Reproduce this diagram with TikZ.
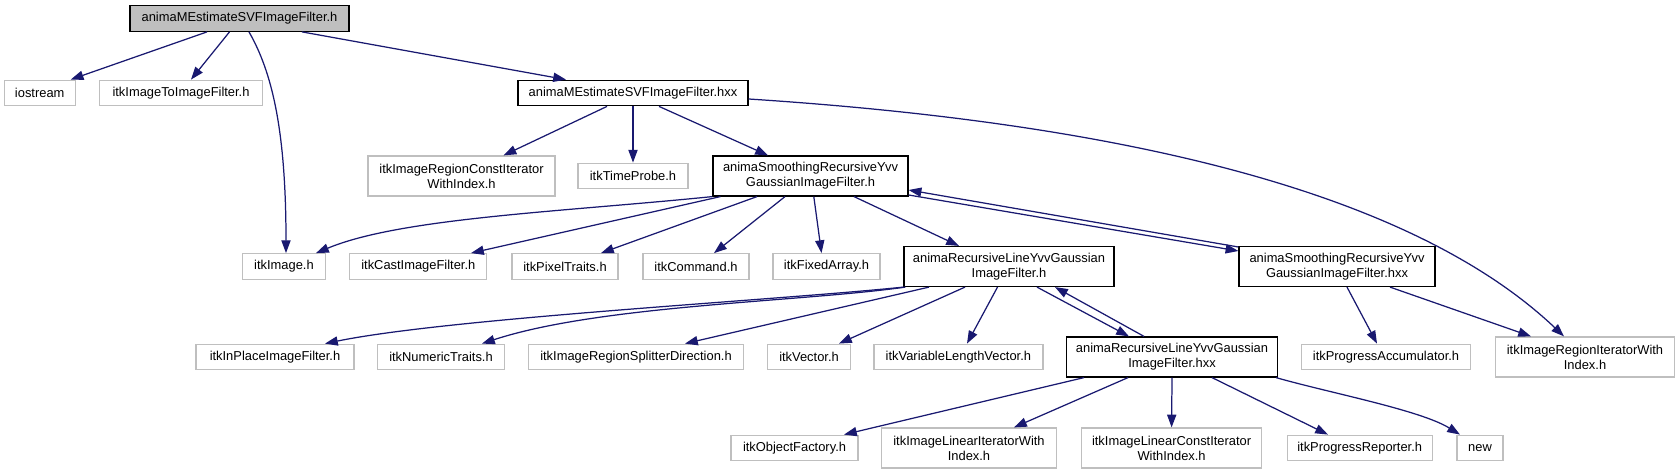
\documentclass[tikz,border=0pt]{standalone}
\usepackage{fontspec}
\setmainfont{Liberation Sans}
\usepackage{xcolor}
\usepackage{tikz}
\usetikzlibrary{arrows.meta,calc}
\definecolor{edgeblue}{HTML}{191970}
\definecolor{extgray}{HTML}{BFBFBF}
\definecolor{curgray}{HTML}{BFBFBF}
\newcommand{\gvfont}{\fontsize{6.45}{7.5}\selectfont}
\tikzset{
  hbox/.style  = {draw=black, line width=0.6pt, fill=white, align=center,
                  inner sep=0pt, font=\gvfont},
  xbox/.style  = {draw=extgray, line width=0.6pt, fill=white, align=center,
                  inner sep=0pt, font=\gvfont},
  cur/.style   = {hbox, fill=curgray},
  one/.style   = {minimum height=12.8pt},
  two/.style   = {minimum height=20pt},
  ar/.style    = {-{Triangle[length=6.4pt,width=4.6pt]}, draw=edgeblue, line width=0.62pt},
}
\begin{document}
\begin{tikzpicture}[x=0.5pt,y=-0.5pt]
  \useasboundingbox (0,0) rectangle (1680,475);
  % rank 0 / 1
  \node[cur, one, minimum width=109.5pt] (top) at (239.5,18.5) {animaMEstimateSVFImageFilter.h};
  \node[xbox, one, minimum width=35.5pt] (ios) at (39.7,93) {iostream};
  \node[xbox, one, minimum width=81.5pt] (itif) at (181,93) {itkImageToImageFilter.h};
  \node[hbox, one, minimum width=115pt] (hxx) at (633,93) {animaMEstimateSVFImageFilter.hxx};
  % rank 2
  \node[xbox, two, minimum width=93.5pt] (ricwi) at (461.5,176) {itkImageRegionConstIterator\\WithIndex.h};
  \node[xbox, one, minimum width=55pt] (tprobe) at (633,176) {itkTimeProbe.h};
  \node[hbox, two, minimum width=97.5pt] (syvh) at (810.5,176) {animaSmoothingRecursiveYvv\\GaussianImageFilter.h};
  % rank 3
  \node[xbox, one, minimum width=41.5pt] (img) at (284,266.5) {itkImage.h};
  \node[xbox, one, minimum width=68.5pt] (cast) at (418.3,266.5) {itkCastImageFilter.h};
  \node[xbox, one, minimum width=53pt] (pixt) at (565,266.5) {itkPixelTraits.h};
  \node[xbox, one, minimum width=53pt] (cmd) at (696,266.5) {itkCommand.h};
  \node[xbox, one, minimum width=53.5pt] (farr) at (826.5,266.5) {itkFixedArray.h};
  \node[hbox, two, minimum width=105pt] (rlyh) at (1009,266.5) {animaRecursiveLineYvvGaussian\\ImageFilter.h};
  \node[hbox, two, minimum width=98pt] (syvx) at (1337,266.5) {animaSmoothingRecursiveYvv\\GaussianImageFilter.hxx};
  % rank 4
  \node[xbox, one, minimum width=79pt] (inplace) at (275,357) {itkInPlaceImageFilter.h};
  \node[xbox, one, minimum width=63.5pt] (numt) at (441,357) {itkNumericTraits.h};
  \node[xbox, one, minimum width=107.5pt] (rsd) at (636,357) {itkImageRegionSplitterDirection.h};
  \node[xbox, one, minimum width=41.25pt] (vec) at (809,357) {itkVector.h};
  \node[xbox, one, minimum width=84.5pt] (vlv) at (958.4,357) {itkVariableLengthVector.h};
  \node[hbox, two, minimum width=105.5pt] (rlyx) at (1172,357) {animaRecursiveLineYvvGaussian\\ImageFilter.hxx};
  \node[xbox, one, minimum width=84.3pt] (pacc) at (1386,357) {itkProgressAccumulator.h};
  \node[xbox, two, minimum width=89.3pt] (riwi) at (1585,357) {itkImageRegionIteratorWith\\Index.h};
  % rank 5
  \node[xbox, one, minimum width=63.5pt] (objf) at (794.5,448) {itkObjectFactory.h};
  \node[xbox, two, minimum width=87.5pt] (liwi) at (969,448) {itkImageLinearIteratorWith\\Index.h};
  \node[xbox, two, minimum width=90pt] (lciwi) at (1171.6,448) {itkImageLinearConstIterator\\WithIndex.h};
  \node[xbox, one, minimum width=72.5pt] (prep) at (1359.7,448) {itkProgressReporter.h};
  \node[xbox, one, minimum width=23pt] (newh) at (1480,448) {new};
  % edges
  \draw[ar] ($(top.south)+(-32.5,0)$) -- ($(ios.north)+(31,0)$);
  \draw[ar] ($(top.south)+(-10,0)$) -- ($(itif.north)+(10,0)$);
  \draw[ar] ($(top.south)+(9.5,0)$) .. controls (272,72) and (286,130) .. ($(img.north)+(2,0)$);
  \draw[ar] ($(top.south)+(62.5,0)$) -- ($(hxx.north)+(-67,0)$);
  \draw[ar] ($(hxx.south)+(-26,0)$) -- ($(ricwi.north)+(42,0)$);
  \draw[ar] (hxx.south) -- (tprobe.north);
  \draw[ar] ($(hxx.south)+(26,0)$) -- ($(syvh.north)+(-42.5,0)$);
  \draw[ar] ($(hxx.east)+(0,6)$) .. controls (1150,125) and (1420,200) .. ($(riwi.north)+(-21,0)$);
  \draw[ar] (syvh.south west) .. controls (560,212) and (400,218) .. ($(img.north)+(32,0)$);
  \draw[ar] ($(syvh.south west)+(8,0)$) -- ($(cast.north)+(52.7,0)$);
  \draw[ar] ($(syvh.south)+(-53.5,0)$) -- ($(pixt.north)+(36,0)$);
  \draw[ar] ($(syvh.south)+(-25.5,0)$) -- ($(cmd.north)+(18,0)$);
  \draw[ar] ($(syvh.south)+(3.3,0)$) -- ($(farr.north)+(-5,0)$);
  \draw[ar] ($(syvh.south)+(43.5,0)$) -- ($(rlyh.north)+(-50,0)$);
  \draw[ar] ($(syvh.east)+(0,19)$) -- ($(syvx.west)+(0,-15.5)$);
  \draw[ar] ($(syvx.west)+(0,-19.5)$) -- ($(syvh.east)+(0,14)$);
  \draw[ar] ($(syvx.south)+(10,0)$) -- ($(pacc.north)+(-9,0)$);
  \draw[ar] ($(syvx.south)+(53,0)$) -- ($(riwi.north)+(-54,0)$);
  \draw[ar] (rlyh.south west) .. controls (780,300) and (450,318) .. ($(inplace.north)+(50,0)$);
  \draw[ar] ($(rlyh.south west)+(2,0)$) .. controls (800,302) and (600,305) .. ($(numt.north)+(41,0)$);
  \draw[ar] ($(rlyh.south)+(-80,0)$) -- ($(rsd.north)+(49,0)$);
  \draw[ar] ($(rlyh.south)+(-44,0)$) -- ($(vec.north)+(30,0)$);
  \draw[ar] ($(rlyh.south)+(-11.5,0)$) -- ($(vlv.north)+(8.6,0)$);
  \draw[ar] ($(rlyh.south)+(28,0)$) -- ($(rlyx.north)+(-43,0)$);
  \draw[ar] ($(rlyx.north)+(-28,0)$) -- ($(rlyh.south)+(46,0)$);
  \draw[ar] ($(rlyx.south)+(-88,0)$) -- ($(objf.north)+(49.5,0)$);
  \draw[ar] ($(rlyx.south)+(-44,0)$) -- ($(liwi.north)+(45,0)$);
  \draw[ar] (rlyx.south) -- (lciwi.north);
  \draw[ar] ($(rlyx.south)+(40,0)$) -- ($(prep.north)+(-31.7,0)$);
  \draw[ar] ($(rlyx.south)+(104,0)$) .. controls (1330,393) and (1420,410) .. ($(newh.north)+(-20,0)$);
\end{tikzpicture}
\end{document}
